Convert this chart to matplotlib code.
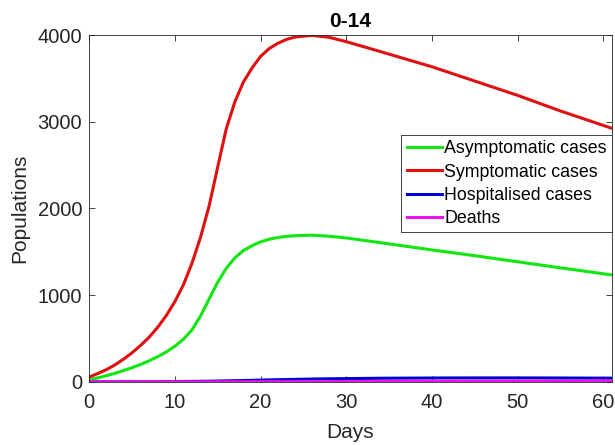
import matplotlib
matplotlib.use("Agg")
import matplotlib.pyplot as plt

matplotlib.rcParams['font.family'] = ["Liberation Sans", "DejaVu Sans"]

days = [0, 1, 2, 3, 4, 5, 6, 7, 8, 9, 10, 11, 12, 13, 14, 15, 16, 17, 18,
        19, 20, 21, 22, 23, 24, 26, 28, 30, 34, 40, 45, 50, 55, 61]

asymptomatic = [25, 45, 70, 98, 130, 163, 200, 243, 290, 345, 410, 492, 600,
                760, 955, 1150, 1310, 1430, 1515, 1570, 1615, 1645, 1665,
                1678, 1686, 1692, 1680, 1660, 1605, 1522, 1455, 1385, 1315,
                1233]
symptomatic = [55, 95, 140, 195, 260, 335, 420, 515, 630, 765, 925, 1120,
               1370, 1670, 2030, 2480, 2920, 3230, 3460, 3620, 3755, 3845,
               3905, 3950, 3978, 3998, 3975, 3925, 3810, 3635, 3470, 3305,
               3125, 2925]
hospitalised = [0, 0.2, 0.5, 0.7, 1, 1.2, 1.5, 1.8, 2, 2.5, 3, 4, 5, 6, 7, 9,
                11, 13, 15, 17, 20, 22, 24, 26, 28, 32, 35, 37, 41, 44, 45,
                45, 44, 42]
deaths = [0, 0, 0, 0, 0, 0, 0, 0, 0, 0.05, 0.1, 0.1, 0.2, 0.2, 0.3, 0.4, 0.5,
          0.6, 0.7, 0.9, 1.1, 1.3, 1.5, 1.7, 2, 2.5, 3, 3.5, 4.5, 6, 7, 8, 9,
          10]

series = [
    ("Asymptomatic cases", asymptomatic, "#10e610"),
    ("Symptomatic cases", symptomatic, "#e01010"),
    ("Hospitalised cases", hospitalised, "#0000d0"),
    ("Deaths", deaths, "#f010f0"),
]

axis_color = "#262626"

fig = plt.figure(figsize=(6.15, 4.45), dpi=100)
ax = fig.add_axes([0.145, 0.142, 0.85, 0.779])

for name, values, color in series:
    ax.plot(days, values, color=color, linewidth=2.2, label=name,
            solid_joinstyle='round')

ax.set_xlim(0, 61)
ax.set_ylim(0, 4000)
ax.set_xticks([0, 10, 20, 30, 40, 50, 60])
ax.set_yticks([0, 1000, 2000, 3000, 4000])

ax.tick_params(direction='in', length=4, width=0.6, colors=axis_color,
               labelsize=14.5, top=True, right=True)
ax.tick_params(axis='x', pad=8)
ax.tick_params(axis='y', pad=5)
for spine in ax.spines.values():
    spine.set_color(axis_color)
    spine.set_linewidth(0.6)

ax.set_xlabel('Days', fontsize=15, color=axis_color, labelpad=8)
ax.set_ylabel('Populations', fontsize=15, color=axis_color, labelpad=6)
ax.set_title('0-14', fontsize=15, fontweight='bold', pad=6)

leg = ax.legend(loc='upper right', bbox_to_anchor=(1.0, 0.712), fontsize=12.8,
                frameon=True, fancybox=False, edgecolor=axis_color,
                framealpha=1, borderpad=0.3, labelspacing=0.35,
                handlelength=2.0, handletextpad=0.1, borderaxespad=0)
leg.get_frame().set_linewidth(0.6)

fig.savefig("out.png", dpi=100)
plt.close(fig)
